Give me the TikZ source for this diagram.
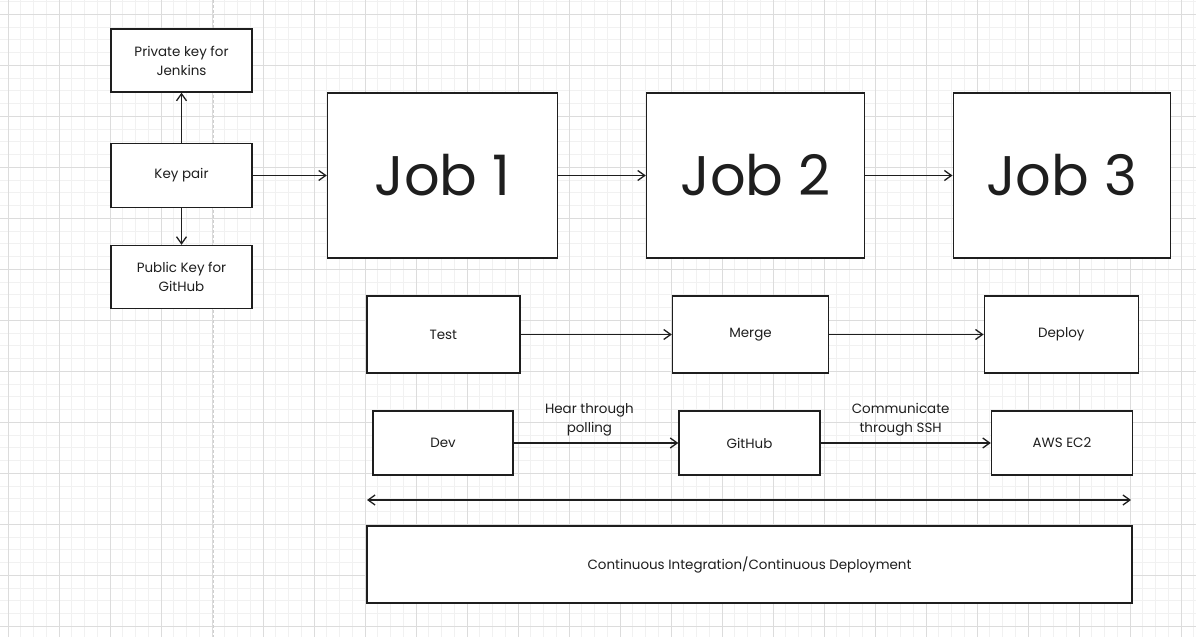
\documentclass[tikz,border=0pt]{standalone}
\usepackage{fontspec}
\setmainfont{Poppins}
\usetikzlibrary{arrows.meta}
\definecolor{ink}{HTML}{1E1E1E}
\definecolor{gridminor}{HTML}{F1F1F1}
\definecolor{gridmajor}{HTML}{DCDCDC}
\definecolor{divider}{HTML}{CFCFCF}
\tikzset{
  box/.style={draw=ink, line width=1.4bp, fill=white, inner sep=0pt, align=center, text=ink, font=\fontsize{13.5}{19}\selectfont},
  jobbox/.style={box, font=\fontsize{56}{56}\selectfont},
  flow/.style={draw=ink, line width=1.3bp, -{Straight Barb[length=7bp,width=10bp]}},
  note/.style={text=ink, align=center, font=\fontsize{13.5}{19}\selectfont}
}
\begin{document}
\begin{tikzpicture}[x=1bp, y=-1bp]
\useasboundingbox (0,0) rectangle (1196,637);
\fill[white] (0,0) rectangle (1196,637);
\foreach \k in {-1,...,93} \draw[gridminor, line width=1bp] (8+12.75*\k,0) -- (8+12.75*\k,637);
\foreach \k in {-1,...,49} \draw[gridminor, line width=1bp] (0,14.3+12.75*\k) -- (1196,14.3+12.75*\k);
\foreach \k in {0,...,23} \draw[gridmajor, line width=1bp] (8+51*\k,0) -- (8+51*\k,637);
\foreach \k in {0,...,12} \draw[gridmajor, line width=1bp] (0,14.3+51*\k) -- (1196,14.3+51*\k);
\draw[divider, line width=1.2bp, dash pattern=on 3bp off 2bp] (213.3,0) -- (213.3,637);

\node[box, minimum width=141bp, minimum height=63bp] (private) at (181.5,60.5) {Private key for\\Jenkins};
\node[box, minimum width=141bp, minimum height=64bp] (keypair) at (181.5,175.5) {Key pair};
\node[box, minimum width=141bp, minimum height=63bp] (public) at (181.5,277) {Public Key for\\GitHub};

\node[jobbox, minimum width=230bp, minimum height=165bp] (job1) at (442.5,175.5) {Job 1};
\node[jobbox, minimum width=218bp, minimum height=165bp] (job2) at (755.5,175.5) {Job 2};
\node[jobbox, minimum width=217bp, minimum height=165bp] (job3) at (1061.7,175.5) {Job 3};

\node[box, minimum width=153bp, minimum height=77bp] (test) at (443.3,334.5) {Test};
\node[box, minimum width=156bp, minimum height=77bp] (merge) at (750.5,334.5) {Merge};
\node[box, minimum width=154bp, minimum height=77bp] (deploy) at (1061.3,334.5) {Deploy};

\node[box, minimum width=140bp, minimum height=64bp] (dev) at (443,443) {Dev};
\node[box, minimum width=141bp, minimum height=64bp] (github) at (749.5,443) {GitHub};
\node[box, minimum width=141bp, minimum height=64bp] (aws) at (1062,443) {AWS EC2};

\coordinate (spanl) at (367,500);
\coordinate (spanr) at (1131,500);
\node[box, minimum width=765bp, minimum height=77bp] (cicd) at (749.5,564.5) {Continuous Integration/Continuous Deployment};

\draw[flow] (keypair) -- (private);
\draw[flow] (keypair) -- (public);
\draw[flow] (keypair) -- (job1);
\draw[flow] (job1) -- (job2);
\draw[flow] (job2) -- (job3);
\draw[flow] (test) -- (merge);
\draw[flow] (merge) -- (deploy);
\draw[flow] (dev) -- node[note, above, pos=0.46, yshift=3bp] {Hear through\\polling} (github);
\draw[flow] (github) -- node[note, above, pos=0.47, yshift=3bp] {Communicate\\through SSH} (aws);
\draw[flow, {Straight Barb[length=7bp,width=10bp]}-{Straight Barb[length=7bp,width=10bp]}] (spanl) -- (spanr);
\end{tikzpicture}
\end{document}
